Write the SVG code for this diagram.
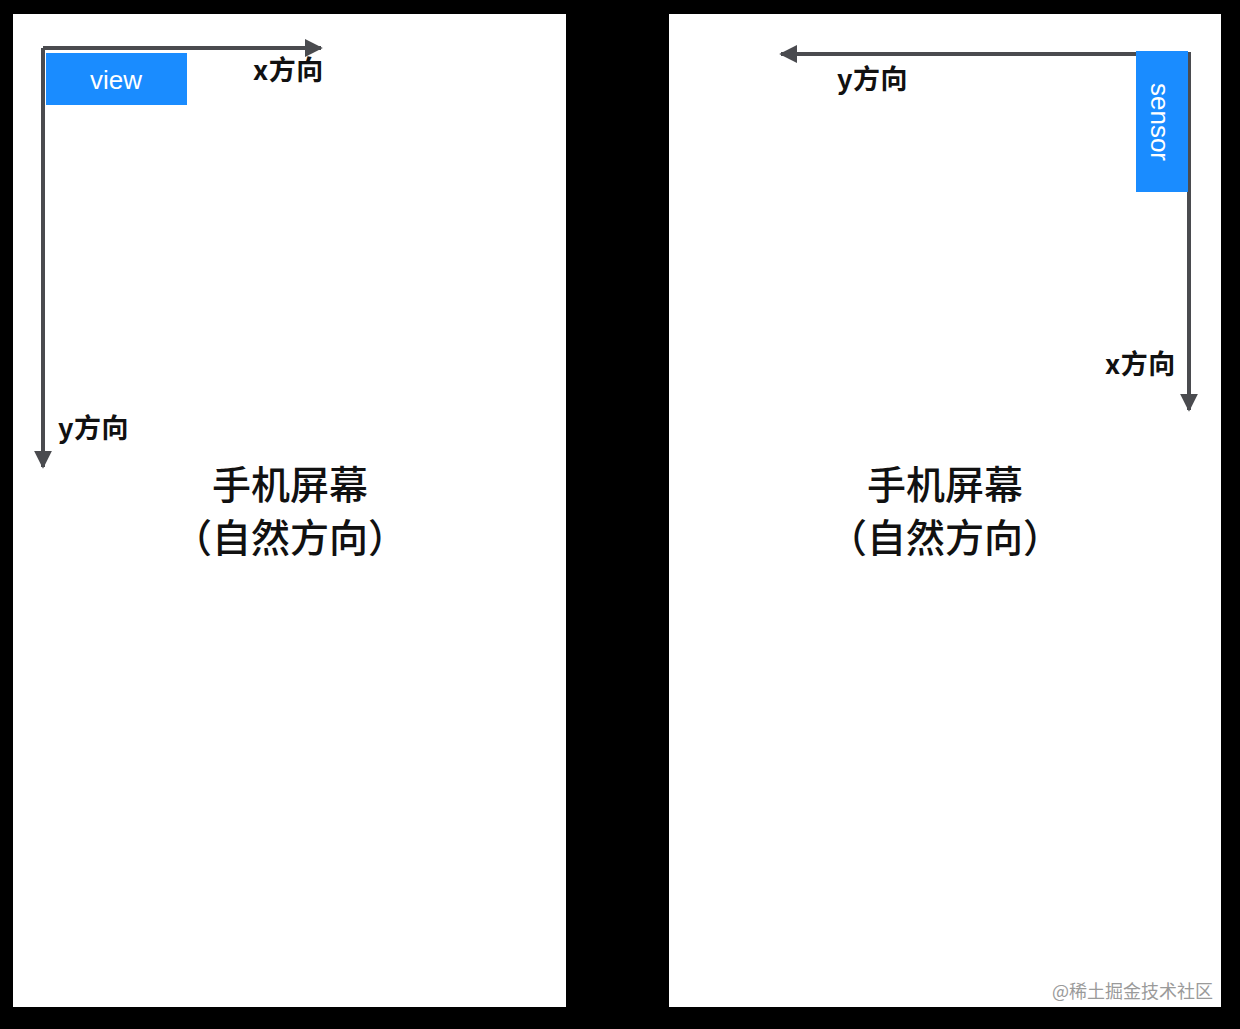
<svg xmlns="http://www.w3.org/2000/svg" width="1240" height="1029" viewBox="0 0 1240 1029">
<style>
.panel{fill:#ffffff}
.axis{stroke:#4a4b4f;stroke-width:4;fill:none}
.box{fill:#1a8cff}
.lbl{font-family:"Noto Sans CJK SC","Liberation Sans",sans-serif;font-weight:bold;font-size:27px;fill:#111;letter-spacing:0.5px}
.title{font-family:"Noto Sans CJK SC","Liberation Sans",sans-serif;font-weight:500;font-size:39px;fill:#111;text-anchor:middle}
.boxt{font-family:"Liberation Sans","Noto Sans",sans-serif;font-size:26px;fill:#ffffff;text-anchor:middle}
.wm{font-family:"Noto Sans CJK SC","Liberation Sans",sans-serif;font-size:18px;fill:#9a9a9a}
</style>
<defs>
<marker id="arr" viewBox="0 0 10 10" refX="9" refY="5" markerWidth="4.5" markerHeight="4.5" orient="auto" markerUnits="strokeWidth">
<path d="M0,0 L10,5 L0,10 z" fill="#4a4b4f"/>
</marker>
</defs>
<rect x="0" y="0" width="1240" height="1029" fill="#000"/>
<g id="left-screen">
<rect class="panel" x="13" y="14" width="553" height="993"/>
<text class="title" x="290" y="499">手机屏幕</text>
<text class="title" x="290" y="552">（自然方向）</text>
</g>
<g id="right-screen">
<rect class="panel" x="669" y="14" width="552" height="993"/>
<text class="title" x="945" y="499">手机屏幕</text>
<text class="title" x="945" y="552">（自然方向）</text>
</g>
<g id="connectors">
<path class="axis" d="M43,48 L321,48" marker-end="url(#arr)"/>
<path class="axis" d="M43,48 L43,467" marker-end="url(#arr)"/>
<path class="axis" d="M1189,54 L781,54" marker-end="url(#arr)"/>
<path class="axis" d="M1189,52 L1189,410" marker-end="url(#arr)"/>
</g>
<g id="view">
<rect class="box" x="46" y="53" width="141" height="52"/>
<text class="boxt" x="116" y="89">view</text>
</g>
<g id="sensor">
<rect class="box" x="1136" y="51" width="52" height="141"/>
<text class="boxt" transform="translate(1160,122) rotate(90)" x="0" y="9">sensor</text>
</g>
<g id="labels">
<text class="lbl" x="253" y="80">x方向</text>
<text class="lbl" x="58" y="438">y方向</text>
<text class="lbl" x="837" y="89">y方向</text>
<text class="lbl" x="1105" y="374">x方向</text>
</g>
<text class="wm" x="1052" y="998">@稀土掘金技术社区</text>
</svg>
